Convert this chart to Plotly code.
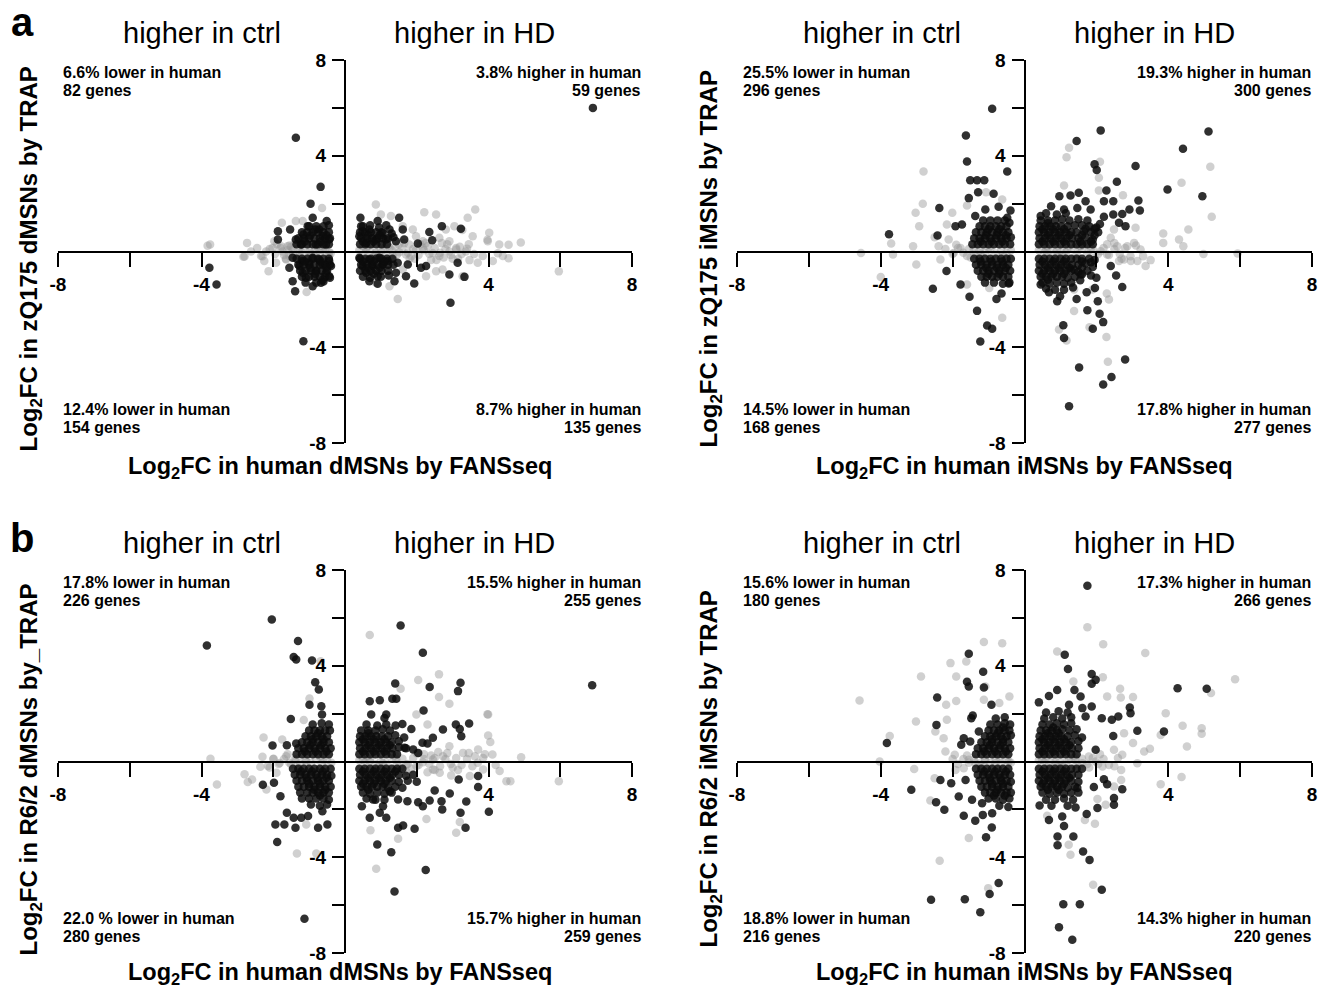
import plotly.graph_objects as go

# ---------------- data ----------------
AL_dark = [(-1.37,4.75),(-0.68,2.70),(-0.96,2.0),(-3.78,-0.68),(-3.58,-1.38),(-1.16,-3.75),(2.94,-2.14),(3.23,0.95),(2.70,1.06),(6.91,6.0),
(-0.90,1.41),(-0.51,1.27),(-1.87,0.85),(-1.53,0.92),(-1.87,0.5),(-1.16,0.71),(-0.72,0.92),(-0.44,0.5),(-1.23,0.29),(-0.81,0.29),(-0.53,0.29),(-1.04,1.06),(-0.62,0.64),(-1.37,0.5),
(-1.46,-0.26),(-1.27,-0.61),(-0.99,-0.47),(-0.72,-0.33),(-0.44,-0.40),(-1.55,-0.68),(-1.18,-0.89),(-0.81,-0.82),(-0.53,-0.89),(-1.46,-1.24),(-1.39,-1.66),(-1.09,-1.10),(-0.90,-1.45),(-0.67,-1.31),(-0.44,-1.03),(-0.62,-0.54),(-0.39,-0.61),(-0.90,-0.26),(-1.18,-0.40),
(0.43,1.41),(0.91,1.27),(1.51,1.41),(0.45,1.06),(0.68,0.92),(1.05,0.78),(1.24,0.92),(1.61,0.92),(0.40,0.64),(0.59,0.36),(0.86,0.5),(1.14,0.5),(1.42,0.43),(1.65,0.5),(2.03,0.33),(2.35,0.81),(2.43,0.47),(0.49,0.85),
(0.40,-0.26),(0.68,-0.33),(0.96,-0.26),(1.19,-0.40),(0.49,-0.61),(0.77,-0.61),(1.05,-0.54),(1.47,-0.47),(1.75,-0.54),(0.59,-0.89),(0.91,-1.03),(1.22,-1.0),(1.42,-0.89),(0.68,-1.24),(0.91,-1.35),(1.38,-1.24),(1.70,-1.03),(1.93,-1.34),(2.12,-0.68),(2.26,-0.61),(2.91,-0.96),(3.14,-0.47),(3.33,-1.06)]
AL_dark_core = [(-1.35,0.3),(-1.2,0.3),(-1.05,0.3),(-0.9,0.3),(-0.75,0.3),(-0.6,0.3),(-0.45,0.3),
(-1.3,0.55),(-1.15,0.55),(-1.0,0.55),(-0.85,0.55),(-0.7,0.55),(-0.55,0.55),(-0.42,0.55),
(-1.2,0.8),(-1.05,0.8),(-0.9,0.8),(-0.75,0.8),(-0.6,0.8),(-0.45,0.8),(-1.0,1.05),(-0.8,1.05),(-0.6,1.05),(-0.45,1.1),
(-1.35,-0.3),(-1.2,-0.3),(-1.05,-0.3),(-0.9,-0.3),(-0.75,-0.3),(-0.6,-0.3),(-0.45,-0.3),
(-1.3,-0.55),(-1.15,-0.55),(-1.0,-0.55),(-0.85,-0.55),(-0.7,-0.55),(-0.55,-0.55),(-0.42,-0.55),
(-1.25,-0.8),(-1.1,-0.8),(-0.95,-0.8),(-0.8,-0.8),(-0.65,-0.8),(-0.5,-0.8),
(-1.2,-1.05),(-1.0,-1.05),(-0.85,-1.05),(-0.7,-1.05),(-0.55,-1.05),(-0.42,-1.1),(-1.1,-1.3),(-0.8,-1.3),(-0.6,-1.25),
(0.42,0.3),(0.57,0.3),(0.72,0.3),(0.87,0.3),(1.02,0.3),(1.17,0.3),
(0.45,0.55),(0.6,0.55),(0.75,0.55),(0.9,0.55),(1.05,0.55),(1.2,0.55),(1.35,0.6),
(0.42,0.8),(0.57,0.8),(0.72,0.8),(0.87,0.8),(1.02,0.8),(1.3,0.75),(0.5,1.05),(0.7,1.1),(0.95,1.0),(1.15,1.1),
(0.42,-0.3),(0.57,-0.3),(0.72,-0.3),(0.87,-0.3),(1.02,-0.3),(1.17,-0.3),(1.32,-0.3),
(0.45,-0.55),(0.6,-0.55),(0.75,-0.55),(0.9,-0.55),(1.05,-0.55),(1.2,-0.55),(1.35,-0.55),
(0.42,-0.8),(0.57,-0.8),(0.72,-0.8),(0.87,-0.8),(1.02,-0.8),(1.2,-0.8),(0.5,-1.05),(0.7,-1.1),(1.0,-1.05),
(-1.12,0.42),(-0.97,0.67),(-0.68,0.42),(-0.52,0.68),(-0.83,0.92),(-1.12,-0.42),(-0.97,-0.68),(-0.68,-0.42),(-0.52,-0.68),(-0.83,-0.93),(-0.62,-1.18),
(0.5,0.42),(0.8,0.42),(0.65,0.68),(0.97,0.68),(0.5,-0.42),(0.8,-0.42),(1.1,-0.42),(0.65,-0.68),(0.97,-0.68),(0.8,-0.93)]
AL_gray = [(-3.76,0.29),(-2.73,0.36),(-2.83,-0.22),(-2.62,0.0),(-2.34,-0.19),(-2.25,-0.40),(-2.13,-0.82),(-1.76,1.20),(-1.97,0.43),(-1.74,0.0),(-1.60,0.22),(-1.55,-0.19),(-1.92,-0.47),(-1.37,1.27),(-1.18,1.27),(-0.64,1.82),(-1.07,-1.69),(-2.02,0.15),(-1.78,0.22),(-1.64,-0.33),(-1.46,0.08),(-1.27,-0.06),(-0.99,0.0),(-0.62,0.05),(-0.44,-0.03),(-0.81,-0.06),(-2.20,0.0),(-3.83,0.24),(-2.80,-0.21),
(0.86,1.96),(1.0,1.55),(1.28,1.48),(2.21,1.64),(2.54,1.55),(3.63,1.75),(3.42,1.41),(3.05,1.06),(3.56,0.64),(4.02,0.78),(3.98,0.43),(4.30,0.29),(4.40,-0.19),(4.12,-0.40),(3.84,-0.19),(3.70,-0.47),(3.47,-0.36),(3.28,-1.03),(1.47,-1.98),(2.54,-0.82),(2.26,-1.03),(2.72,-0.75),(1.89,0.92),(1.98,0.64),(2.17,0.43),(2.63,0.57),(2.91,0.43),(2.81,0.92),(1.61,1.06),(0.59,0.08),(1.05,0.06),(1.51,-0.03),(1.98,0.06),(2.44,-0.06),(2.91,0.0),(3.37,0.0),(1.24,0.15),(1.70,-0.12),(2.17,0.15),(2.63,-0.19),(3.10,0.15),(1.79,0.29),(1.33,-0.19),(0.86,-0.08),(1.61,-0.75),(0.86,-1.31),(1.24,-1.45),
(5.96,-0.83),(4.9,0.38),(4.56,-0.28),(4.56,0.28),(3.27,0.9),(4.26,-0.07),(3.97,0.49)]
AL_gray_band = [(-2.1,0.1),(-1.95,-0.1),(-1.8,0.15),(-1.7,-0.15),(-1.6,0.05),(-1.5,0.2),(-1.45,-0.12),(-1.3,0.08),(-1.2,-0.05),(-1.1,0.12),(-0.95,-0.1),(-0.85,0.05),(-0.7,-0.05),(-0.55,0.1),(-0.4,-0.08),
(0.4,0.05),(0.55,-0.1),(0.7,0.1),(0.85,-0.05),(1.0,0.12),(1.15,-0.1),(1.3,0.05),(1.45,-0.12),(1.6,0.15),(1.75,-0.05),(1.9,0.1),(2.05,-0.15),(2.2,0.05),(2.35,-0.1),(2.5,0.15),(2.65,-0.05),(2.8,0.1),(2.95,-0.15),(3.1,0.08),(3.25,-0.1),(3.4,0.12),(1.5,0.3),(1.8,-0.3),(2.1,0.3),(2.4,-0.35),(2.7,0.35),(3.0,-0.3),(1.2,0.25),(0.9,-0.25),
(-1.9,0.3),(-1.65,-0.3),(-1.4,0.35),(-1.0,-0.2),(-0.6,0.2),(-0.45,-0.2),(0.5,0.22),(0.75,-0.22),(1.05,0.3),(1.35,-0.3),(1.65,0.35),(1.95,-0.3),(2.25,0.35),(2.55,-0.35),(2.85,0.3),(3.15,-0.3),(3.45,0.3),(3.6,-0.1),(0.6,0.18),(0.95,-0.15),(1.4,0.2),(1.85,-0.2),(2.3,0.22),(2.75,-0.25),(3.2,0.2),(-1.55,0.25),(-1.25,-0.25),(-0.75,0.18),(-2.3,-0.2),(-2.45,0.15)]

AR_dark = [(-0.90,5.96),(-1.63,4.85),(-1.60,3.76),(-0.48,3.34),(-1.51,2.98),(-1.32,2.98),(-1.12,2.98),(-1.29,2.48),(-0.86,2.41),(-1.55,2.23),(-2.37,1.82),(-3.77,0.72),(-2.42,0.67),(-2.17,-0.81),(-2.55,-1.56),(-1.78,-1.38),(-1.53,-1.89),(-1.32,-2.48),(-1.04,-3.09),(-0.90,-3.23),(-1.23,-3.76),(-0.78,-1.98),(-0.64,-1.75),(-0.44,-1.34),
(-1.92,1.06),(-1.74,1.13),(-1.37,1.48),(-1.09,1.75),(-0.72,1.87),(-0.39,1.71),(-0.48,1.41),
(2.12,5.06),(1.45,4.62),(5.12,5.01),(4.41,4.29),(1.95,3.64),(2.01,3.40),(3.09,3.57),(2.57,2.91),(3.98,2.59),(4.95,2.31),(2.28,2.55),(3.17,2.13),(3.21,1.71),(2.92,1.75),(2.72,1.57),(2.81,1.06),(2.63,1.20),(1.51,2.45),(1.28,2.34),(0.97,2.31),(1.70,2.10),(1.84,1.75),(2.21,2.10),(2.47,2.10),(2.21,1.45),(2.47,1.55),(0.74,1.89),(0.45,1.48),(1.10,1.75),(1.47,1.82),
(0.45,-1.38),(0.68,-1.70),(0.91,-2.08),(0.99,-1.87),(1.45,-1.98),(1.73,-1.70),(1.96,-1.52),(2.04,-2.08),(1.75,-2.45),(2.09,-2.60),(2.19,-2.95),(1.90,-3.23),(1.08,-3.08),(1.10,-3.61),(2.80,-4.51),(1.52,-4.85),(2.42,-5.24),(2.19,-5.56),(1.24,-6.46),(2.55,-1.0),(2.72,-1.48),(2.40,-0.61),(1.56,-0.96),(1.38,-0.75)]
AR_dark_core = [(-1.45,0.3),(-1.3,0.3),(-1.15,0.3),(-1.0,0.3),(-0.85,0.3),(-0.7,0.3),(-0.55,0.3),(-0.4,0.3),
(-1.4,0.55),(-1.25,0.55),(-1.1,0.55),(-0.95,0.55),(-0.8,0.55),(-0.65,0.55),(-0.5,0.55),(-0.38,0.6),
(-1.35,0.8),(-1.2,0.8),(-1.05,0.8),(-0.9,0.8),(-0.75,0.8),(-0.6,0.8),(-0.45,0.8),
(-1.25,1.05),(-1.1,1.05),(-0.95,1.05),(-0.8,1.05),(-0.65,1.05),(-0.5,1.05),(-1.15,1.3),(-0.95,1.3),(-0.75,1.3),(-0.55,1.3),(-0.42,1.2),
(-1.4,-0.3),(-1.25,-0.3),(-1.1,-0.3),(-0.95,-0.3),(-0.8,-0.3),(-0.65,-0.3),(-0.5,-0.3),(-0.38,-0.3),
(-1.35,-0.55),(-1.2,-0.55),(-1.05,-0.55),(-0.9,-0.55),(-0.75,-0.55),(-0.6,-0.55),(-0.45,-0.55),
(-1.3,-0.8),(-1.15,-0.8),(-1.0,-0.8),(-0.85,-0.8),(-0.7,-0.8),(-0.55,-0.8),(-0.4,-0.8),
(-1.2,-1.05),(-1.05,-1.05),(-0.9,-1.05),(-0.75,-1.05),(-0.6,-1.05),(-0.45,-1.05),(-1.1,-1.3),(-0.85,-1.3),(-0.6,-1.35),(-0.42,-1.3),
(0.4,0.3),(0.55,0.3),(0.7,0.3),(0.85,0.3),(1.0,0.3),(1.15,0.3),(1.3,0.3),(1.45,0.3),
(0.42,0.55),(0.57,0.55),(0.72,0.55),(0.87,0.55),(1.02,0.55),(1.17,0.55),(1.32,0.55),(1.5,0.55),(1.7,0.6),(1.9,0.5),
(0.4,0.8),(0.55,0.8),(0.7,0.8),(0.85,0.8),(1.0,0.8),(1.15,0.8),(1.3,0.8),(1.45,0.8),(1.65,0.85),(1.85,0.8),
(0.42,1.05),(0.57,1.05),(0.72,1.05),(0.87,1.05),(1.02,1.05),(1.2,1.05),(1.4,1.1),(1.6,1.1),(1.8,1.05),(2.0,1.0),
(0.45,1.3),(0.65,1.3),(0.85,1.3),(1.05,1.35),(1.25,1.3),(1.5,1.35),(1.75,1.3),(0.6,1.6),(0.9,1.55),(1.15,1.6),
(0.4,-0.3),(0.55,-0.3),(0.7,-0.3),(0.85,-0.3),(1.0,-0.3),(1.15,-0.3),(1.3,-0.3),(1.45,-0.3),(1.6,-0.3),
(0.42,-0.55),(0.57,-0.55),(0.72,-0.55),(0.87,-0.55),(1.02,-0.55),(1.17,-0.55),(1.32,-0.55),(1.5,-0.55),(1.7,-0.5),
(0.4,-0.8),(0.55,-0.8),(0.7,-0.8),(0.85,-0.8),(1.0,-0.8),(1.15,-0.8),(1.3,-0.8),(1.5,-0.85),(1.75,-0.8),
(0.45,-1.05),(0.6,-1.05),(0.75,-1.05),(0.9,-1.05),(1.05,-1.05),(1.2,-1.1),(1.4,-1.05),
(0.5,-1.3),(0.7,-1.35),(0.9,-1.3),(1.1,-1.35),(1.3,-1.3),(0.6,-1.55),(0.85,-1.6),
(-1.22,0.42),(-0.92,0.42),(-0.62,0.42),(-1.07,0.68),(-0.77,0.68),(-0.52,0.68),(-1.0,0.93),(-0.7,0.93),(-1.22,-0.42),(-0.92,-0.42),(-0.62,-0.42),(-1.07,-0.68),(-0.77,-0.68),(-0.52,-0.68),(-1.0,-0.93),(-0.7,-0.93),
(0.5,0.42),(0.8,0.42),(1.1,0.42),(0.65,0.68),(0.95,0.68),(1.25,0.68),(0.5,0.93),(0.8,0.93),(1.1,0.93),(0.65,1.18),(0.5,-0.42),(0.8,-0.42),(1.1,-0.42),(0.65,-0.68),(0.95,-0.68),(1.25,-0.68),(0.5,-0.93),(0.8,-0.93),(1.1,-0.93),(0.65,-1.18),
(1.6,0.3),(1.75,0.3),(1.9,0.3),(1.55,0.42),(1.85,0.42),(1.6,0.68),(1.95,0.68),(2.05,0.8),(1.7,0.95),(1.95,0.95),(2.1,1.15),(1.8,-0.3),(1.95,-0.35),(1.6,-0.42),(1.85,-0.45),(1.6,-0.68),(1.9,-0.65),(1.6,-0.95),(1.85,-1.0),(1.55,-1.2),(2.0,-1.1),(1.35,-1.5),(1.1,-1.6)]
AR_gray = [(-4.55,-0.06),(-4.0,-1.07),(-3.71,0.33),(-3.66,-0.13),(-3.10,0.22),(-3.01,-0.54),(-2.81,3.34),(-2.83,1.99),(-3.03,1.62),(-2.93,1.06),(-2.50,0.60),(-2.16,1.13),(-2.01,1.62),(-2.39,0.22),(-2.34,-0.33),(-2.11,0.50),(-1.97,-0.06),(-1.60,-1.38),(-0.98,-1.52),(-0.62,-2.77),(-0.62,2.17),(-1.07,2.48),(-1.60,1.92),(-1.78,0.15),(-1.41,0.08),(-1.23,-0.08),(-1.60,-0.19),
(1.24,4.33),(1.17,3.94),(2.10,3.75),(2.07,3.08),(1.10,2.76),(2.07,2.55),(2.74,2.35),(4.37,2.87),(5.17,3.54),(5.21,1.45),(4.56,0.92),(4.30,0.50),(4.42,0.22),(3.86,0.75),(3.86,0.36),(4.98,-0.10),(5.93,-0.08),(3.51,-0.36),(3.37,-0.61),(3.14,-0.40),(2.96,-0.40),(2.77,-0.33),(2.63,-0.40),(2.30,-0.13),(2.40,0.57),(2.49,0.92),(3.09,0.99),(2.86,0.22),(2.58,0.22),(3.23,0.08),(3.05,0.36),(1.38,-2.49),(2.35,-2.0),(2.29,-1.75),(0.96,-3.26),(1.17,-3.72),(1.81,-3.16),(2.28,-3.57),(2.32,-4.61),(1.89,-1.59),(1.38,-1.59),(1.56,0.22),(1.84,0.08),(2.12,0.01),(1.19,0.08),(0.91,0.01),(0.63,-0.03)]
AR_gray_band = [(-2.2,0.1),(-2.0,-0.1),(-1.85,0.15),(-1.7,-0.05),(-1.55,0.1),(-1.4,-0.1),(-1.25,0.05),(-1.1,-0.05),(-0.95,0.08),(-0.8,-0.08),(-0.65,0.05),(-0.5,-0.05),(-0.38,0.05),
(0.4,0.05),(0.55,-0.05),(0.7,0.08),(0.85,-0.08),(1.0,0.05),(1.15,-0.05),(1.3,0.1),(1.45,-0.1),(1.6,0.12),(1.75,-0.08),(1.9,0.1),(2.05,-0.1),(2.2,0.15),(2.35,-0.15),(2.5,0.1),(2.65,-0.1),(2.8,0.15),(2.95,-0.2),
(-1.9,0.28),(-1.5,-0.25),(-1.0,0.15),(-0.6,-0.15),(0.6,0.15),(1.05,-0.15),(1.5,0.2),(1.95,-0.25),(2.3,0.3),(2.7,-0.3),(3.1,0.25),(3.3,-0.2),(1.7,0.3),(2.5,0.35)]

BL_dark = [(-3.85,4.85),(-2.04,5.93),(-1.31,5.03),(-1.43,4.37),(-1.36,4.26),(-0.92,4.22),(-0.83,3.31),(-0.73,3.01),(-0.99,2.37),(-0.66,2.31),(-0.64,1.96),(-1.51,1.78),(-2.02,0.67),(-1.62,0.68),(-1.36,0.75),(-2.29,-0.97),(-1.98,-0.89),(-1.80,-1.45),(-1.94,-2.63),(-1.69,-2.63),(-1.89,-3.36),(-1.38,-2.77),(-1.62,-2.14),(-1.43,-2.35),(-1.22,-2.35),(-1.03,-2.28),(-0.75,-2.77),(-0.49,-2.63),(-0.63,-2.08),(-1.13,-6.57),
(1.55,5.68),(2.17,4.54),(1.40,3.26),(2.36,3.11),(3.22,3.29),(3.15,2.94),(0.69,2.52),(0.97,2.56),(1.32,2.62),(1.43,2.62),(2.19,2.13),(1.15,1.96),(1.10,1.82),(0.73,1.96),(1.60,1.57),(1.41,1.50),(1.85,1.36),(2.73,1.34),(3.09,1.55),(3.46,1.59),(3.20,1.36),(3.24,1.06),(2.45,0.99),(2.16,0.78),(2.30,0.75),(1.66,0.57),(1.90,0.50),(2.04,0.36),(6.89,3.19),
(0.47,-1.87),(0.69,-2.35),(0.97,-2.14),(1.15,-2.35),(1.48,-2.77),(1.62,-2.67),(1.94,-2.81),(1.29,-3.79),(0.90,-3.47),(1.38,-5.43),(2.25,-4.53),(1.74,-1.66),(2.04,-1.70),(2.17,-1.87),(2.36,-1.63),(2.50,-1.21),(2.71,-2.0),(2.69,-1.66),(2.92,-1.34),(3.17,-0.75),(3.38,-1.67),(3.36,-2.77),(3.22,-2.14),(3.71,-1.07),(4.01,-2.10),(3.71,-0.61),(1.25,-1.24),(1.48,-1.59),(1.06,-1.87),(0.78,-1.59)]
BL_dark_core = [(-1.35,0.3),(-1.2,0.3),(-1.05,0.3),(-0.9,0.3),(-0.75,0.3),(-0.6,0.3),(-0.45,0.3),
(-1.3,0.55),(-1.15,0.55),(-1.0,0.55),(-0.85,0.55),(-0.7,0.55),(-0.55,0.55),(-0.4,0.55),
(-1.2,0.8),(-1.05,0.8),(-0.9,0.8),(-0.75,0.8),(-0.6,0.8),(-0.45,0.8),
(-1.1,1.05),(-0.95,1.05),(-0.8,1.05),(-0.65,1.05),(-0.5,1.05),(-1.0,1.3),(-0.85,1.3),(-0.7,1.3),(-0.55,1.3),(-0.42,1.3),(-0.9,1.55),(-0.65,1.6),(-0.45,1.55),
(-1.45,-0.3),(-1.3,-0.3),(-1.15,-0.3),(-1.0,-0.3),(-0.85,-0.3),(-0.7,-0.3),(-0.55,-0.3),(-0.4,-0.3),
(-1.4,-0.55),(-1.25,-0.55),(-1.1,-0.55),(-0.95,-0.55),(-0.8,-0.55),(-0.65,-0.55),(-0.5,-0.55),(-0.38,-0.6),
(-1.35,-0.8),(-1.2,-0.8),(-1.05,-0.8),(-0.9,-0.8),(-0.75,-0.8),(-0.6,-0.8),(-0.45,-0.8),
(-1.3,-1.05),(-1.15,-1.05),(-1.0,-1.05),(-0.85,-1.05),(-0.7,-1.05),(-0.55,-1.05),(-0.4,-1.05),
(-1.25,-1.3),(-1.05,-1.3),(-0.9,-1.3),(-0.75,-1.3),(-0.6,-1.3),(-0.45,-1.3),
(-1.2,-1.55),(-1.0,-1.55),(-0.8,-1.55),(-0.6,-1.55),(-0.45,-1.6),(-0.95,-1.8),(-0.7,-1.85),(-0.5,-1.8),
(0.4,0.3),(0.55,0.3),(0.7,0.3),(0.85,0.3),(1.0,0.3),(1.15,0.3),(1.3,0.3),(1.45,0.3),
(0.42,0.55),(0.57,0.55),(0.72,0.55),(0.87,0.55),(1.02,0.55),(1.17,0.55),(1.32,0.55),(1.5,0.6),(1.7,0.55),
(0.4,0.8),(0.55,0.8),(0.7,0.8),(0.85,0.8),(1.0,0.8),(1.15,0.8),(1.3,0.8),(1.5,0.85),
(0.42,1.05),(0.57,1.05),(0.72,1.05),(0.87,1.05),(1.02,1.05),(1.2,1.05),(1.4,1.1),(1.65,1.0),
(0.45,1.3),(0.65,1.3),(0.85,1.3),(1.05,1.35),(1.25,1.3),(0.6,1.55),(0.9,1.5),(1.15,1.55),
(0.4,-0.3),(0.55,-0.3),(0.7,-0.3),(0.85,-0.3),(1.0,-0.3),(1.15,-0.3),(1.3,-0.3),(1.45,-0.3),(1.6,-0.3),
(0.42,-0.55),(0.57,-0.55),(0.72,-0.55),(0.87,-0.55),(1.02,-0.55),(1.17,-0.55),(1.32,-0.55),(1.5,-0.55),(1.7,-0.6),(1.9,-0.55),
(0.4,-0.8),(0.55,-0.8),(0.7,-0.8),(0.85,-0.8),(1.0,-0.8),(1.15,-0.8),(1.3,-0.8),(1.5,-0.85),(1.75,-0.8),(2.0,-0.85),
(0.45,-1.05),(0.6,-1.05),(0.75,-1.05),(0.9,-1.05),(1.05,-1.05),(1.2,-1.1),(1.4,-1.05),(1.6,-1.1),
(0.5,-1.3),(0.7,-1.35),(0.9,-1.3),(1.1,-1.35),(1.3,-1.3),(0.6,-1.55),(0.85,-1.6),(1.1,-1.6),
(-1.12,0.42),(-0.82,0.42),(-0.52,0.42),(-0.97,0.68),(-0.67,0.68),(-0.9,0.93),(-0.6,0.93),(-0.75,1.18),(-1.22,-0.42),(-0.92,-0.42),(-0.62,-0.42),(-1.07,-0.68),(-0.77,-0.68),(-0.52,-0.68),(-1.0,-0.93),(-0.7,-0.93),(-0.85,-1.18),(-0.55,-1.18),(-0.7,-1.42),
(0.5,0.42),(0.8,0.42),(1.1,0.42),(0.65,0.68),(0.95,0.68),(1.25,0.68),(0.5,0.93),(0.8,0.93),(1.1,0.93),(0.65,1.18),(0.5,-0.42),(0.8,-0.42),(1.1,-0.42),(1.4,-0.42),(0.65,-0.68),(0.95,-0.68),(1.25,-0.68),(0.5,-0.93),(0.8,-0.93),(1.1,-0.93),(0.65,-1.18)]
BL_gray = [(-3.75,0.11),(-3.57,-0.96),(-2.80,-0.53),(-2.71,-0.86),(-2.59,-0.75),(-2.36,-0.22),(-2.27,1.0),(-2.15,-0.19),(-2.19,-1.17),(-1.91,-0.47),(-1.75,0.92),(-1.64,0.22),(-1.50,-0.13),(-1.36,0.08),(-1.15,1.73),(-0.99,2.63),(-0.68,4.19),(-1.34,-3.84),(-0.80,-3.84),(-1.08,-2.63),(-0.61,0.08),(-1.08,0.01),(-1.82,-0.06),(-1.99,0.11),
(0.69,5.28),(1.55,3.04),(2.04,3.40),(2.62,3.64),(2.62,2.69),(2.91,2.41),(1.99,1.96),(2.30,1.55),(3.99,1.96),(3.99,1.09),(4.05,0.81),
(0.71,-2.87),(1.48,-3.23),(0.87,-4.48),(2.27,-2.40),(3.10,-2.98),(3.20,-2.53),(2.96,-0.58),(3.48,-0.61),(3.85,-0.33),(4.31,-0.40),(4.50,-0.82),(3.71,0.50),(3.62,0.22),(3.85,0.15),(4.11,0.29),(3.29,0.36),(2.91,0.64),(2.73,0.22),(2.45,0.08),(2.17,-0.03),(1.99,-0.19),(2.45,-0.33),(2.64,-0.47),(1.71,-0.13),(1.43,0.08),(1.06,-0.06),(0.69,0.01),(0.50,0.08),
(4.91,0.18),(5.96,-0.82),(4.61,-0.82),(3.97,1.97)]
BL_gray_band = [(-2.0,0.1),(-1.85,-0.1),(-1.7,0.1),(-1.55,-0.05),(-1.4,0.08),(-1.25,-0.08),(-1.1,0.05),(-0.95,-0.05),(-0.8,0.08),(-0.65,-0.08),(-0.5,0.05),(-0.38,-0.05),
(0.4,0.05),(0.55,-0.05),(0.7,0.1),(0.85,-0.1),(1.0,0.05),(1.15,-0.08),(1.3,0.1),(1.45,-0.1),(1.6,0.12),(1.75,-0.1),(1.9,0.15),(2.05,-0.15),(2.2,0.1),(2.35,-0.1),(2.5,0.15),(2.65,-0.2),(2.8,0.1),(2.95,-0.1),(3.1,0.15),(3.25,-0.15),(3.4,0.1),(3.55,-0.2),(2.0,0.35),(2.6,0.4),(1.7,-0.4),(2.3,-0.45),
(-2.3,0.2),(-2.1,-0.25),(-1.6,0.3),(-1.3,-0.25),(-0.7,0.2),(0.6,0.2),(0.95,-0.2),(1.4,0.25),(1.85,-0.3),(2.2,0.3),(2.5,-0.35),(2.85,0.35),(3.15,-0.35),(3.45,0.35),(3.7,-0.05),(3.9,0.3),(4.2,-0.15),(1.55,-0.25),(2.4,0.25),(3.0,-0.25)]

BR_dark = [(1.75,7.34),(-1.55,4.50),(-1.15,3.75),(-1.60,3.33),(-1.55,3.13),(-1.13,3.09),(-2.43,2.67),(-0.92,2.37),(-1.44,1.92),(-1.48,1.81),(-2.45,1.53),(-3.83,0.77),(-1.76,0.70),(-1.69,0.97),(-1.51,0.84),(-1.27,1.25),
(-3.15,-1.18),(-2.34,-0.77),(-2.04,-0.91),(-2.46,-1.70),(-2.23,-2.02),(-1.83,-1.46),(-1.64,-0.77),(-1.69,-2.27),(-1.37,-2.47),(-1.16,-2.23),(-0.90,-2.16),(-1.07,-3.16),(-0.91,-2.76),(-0.72,-5.08),(-0.97,-5.54),(-1.66,-5.75),(-2.60,-5.78),(-1.23,-6.30),(-1.46,-1.60),(-1.18,-1.74),
(1.12,4.46),(1.21,3.86),(1.87,3.66),(1.98,3.41),(1.87,3.25),(0.91,2.99),(0.68,2.74),(0.40,2.47),(1.39,2.99),(1.56,2.72),(1.87,2.30),(2.93,2.26),(2.95,2.02),(2.61,1.88),(2.43,1.74),(2.15,1.81),(3.14,1.28),(3.88,1.25),(4.26,3.06),(5.07,3.04),(2.47,1.07),(1.98,0.49),(1.61,2.23),(1.70,1.88),(1.24,2.37),
(2.21,-0.74),(2.30,-0.95),(2.72,-1.16),(2.49,-1.53),(2.49,-1.81),(2.03,-1.94),(1.73,-2.19),(1.42,-1.92),(1.47,-1.11),(1.93,-1.07),(0.68,-2.44),(0.42,-1.84),(1.05,-2.30),(1.10,-2.69),(0.92,-3.13),(0.92,-3.50),(1.36,-3.13),(1.63,-3.76),(1.81,-4.11),(2.15,-5.36),(1.08,-5.96),(1.54,-5.96),(0.96,-6.92),(1.33,-7.45)]
BR_dark_core = [(-1.35,0.3),(-1.2,0.3),(-1.05,0.3),(-0.9,0.3),(-0.75,0.3),(-0.6,0.3),(-0.45,0.3),
(-1.3,0.55),(-1.15,0.55),(-1.0,0.55),(-0.85,0.55),(-0.7,0.55),(-0.55,0.55),(-0.4,0.55),
(-1.2,0.8),(-1.05,0.8),(-0.9,0.8),(-0.75,0.8),(-0.6,0.8),(-0.45,0.8),
(-1.1,1.05),(-0.95,1.05),(-0.8,1.05),(-0.65,1.05),(-0.5,1.05),(-0.38,1.1),
(-1.0,1.3),(-0.85,1.3),(-0.7,1.3),(-0.55,1.3),(-0.42,1.3),(-0.95,1.55),(-0.75,1.55),(-0.55,1.6),(-0.4,1.55),(-0.8,1.8),(-0.55,1.85),
(-1.35,-0.3),(-1.2,-0.3),(-1.05,-0.3),(-0.9,-0.3),(-0.75,-0.3),(-0.6,-0.3),(-0.45,-0.3),
(-1.3,-0.55),(-1.15,-0.55),(-1.0,-0.55),(-0.85,-0.55),(-0.7,-0.55),(-0.55,-0.55),(-0.4,-0.55),
(-1.25,-0.8),(-1.1,-0.8),(-0.95,-0.8),(-0.8,-0.8),(-0.65,-0.8),(-0.5,-0.8),(-0.38,-0.85),
(-1.2,-1.05),(-1.05,-1.05),(-0.9,-1.05),(-0.75,-1.05),(-0.6,-1.05),(-0.45,-1.05),
(-1.1,-1.3),(-0.95,-1.3),(-0.8,-1.3),(-0.65,-1.3),(-0.5,-1.3),(-0.38,-1.3),
(-1.0,-1.55),(-0.8,-1.55),(-0.6,-1.6),(-0.42,-1.55),(-0.7,-1.85),(-0.45,-1.9),
(0.4,0.3),(0.55,0.3),(0.7,0.3),(0.85,0.3),(1.0,0.3),(1.15,0.3),(1.3,0.3),(1.45,0.3),
(0.42,0.55),(0.57,0.55),(0.72,0.55),(0.87,0.55),(1.02,0.55),(1.17,0.55),(1.32,0.55),(1.5,0.55),
(0.4,0.8),(0.55,0.8),(0.7,0.8),(0.85,0.8),(1.0,0.8),(1.15,0.8),(1.3,0.8),(1.5,0.85),
(0.42,1.05),(0.57,1.05),(0.72,1.05),(0.87,1.05),(1.02,1.05),(1.2,1.05),(1.4,1.1),(1.6,1.0),
(0.45,1.3),(0.6,1.3),(0.75,1.3),(0.9,1.3),(1.05,1.35),(1.25,1.3),(1.45,1.35),
(0.5,1.55),(0.7,1.55),(0.9,1.6),(1.1,1.55),(1.3,1.6),(0.55,1.8),(0.8,1.85),(1.05,1.8),(1.3,1.85),(0.6,2.05),(0.95,2.1),(1.2,2.05),
(0.4,-0.3),(0.55,-0.3),(0.7,-0.3),(0.85,-0.3),(1.0,-0.3),(1.15,-0.3),(1.3,-0.3),(1.45,-0.3),(1.6,-0.3),
(0.42,-0.55),(0.57,-0.55),(0.72,-0.55),(0.87,-0.55),(1.02,-0.55),(1.17,-0.55),(1.32,-0.55),(1.5,-0.55),
(0.4,-0.8),(0.55,-0.8),(0.7,-0.8),(0.85,-0.8),(1.0,-0.8),(1.15,-0.8),(1.3,-0.8),(1.5,-0.85),
(0.45,-1.05),(0.6,-1.05),(0.75,-1.05),(0.9,-1.05),(1.05,-1.05),(1.2,-1.1),(1.4,-1.05),
(0.5,-1.3),(0.7,-1.35),(0.9,-1.3),(1.1,-1.35),(1.3,-1.3),(1.5,-1.3),(0.6,-1.6),(0.85,-1.6),(1.1,-1.55),(1.35,-1.6),(0.75,-1.85),(1.2,-1.85),
(-1.12,0.42),(-0.82,0.42),(-0.52,0.42),(-0.97,0.68),(-0.67,0.68),(-0.9,0.93),(-0.6,0.93),(-0.75,1.18),(-0.6,1.42),(-1.12,-0.42),(-0.82,-0.42),(-0.52,-0.42),(-0.97,-0.68),(-0.67,-0.68),(-0.9,-0.93),(-0.6,-0.93),(-0.75,-1.18),(-0.85,-1.42),(-0.55,-1.42),
(0.5,0.42),(0.8,0.42),(1.1,0.42),(0.65,0.68),(0.95,0.68),(1.25,0.68),(0.5,0.93),(0.8,0.93),(1.1,0.93),(0.65,1.18),(0.95,1.18),(0.8,1.42),(0.5,-0.42),(0.8,-0.42),(1.1,-0.42),(0.65,-0.68),(0.95,-0.68),(1.25,-0.68),(0.5,-0.93),(0.8,-0.93),(1.1,-0.93),(0.65,-1.18),(0.95,-1.18)]
BR_gray = [(-4.59,2.55),(-4.03,0.0),(-3.75,1.07),(-3.07,-0.31),(-3.02,1.67),(-2.88,3.55),(-2.62,-1.63),(-2.36,-4.15),(-2.50,-0.70),(-2.48,1.25),(-2.20,0.42),(-2.25,0.97),(-2.16,1.74),(-2.18,2.37),(-2.06,4.11),(-1.90,2.53),(-1.90,3.55),(-1.62,4.18),(-1.13,4.99),(-0.62,4.94),(-0.42,2.72),(-0.70,2.44),(-1.13,2.58),(-1.09,3.13),(-1.55,-3.20),(-1.01,-5.29),(-1.94,0.28),(-1.55,0.07),(-1.69,-0.28),(-1.37,-0.07),(-1.09,0.07),(-0.81,-0.07),(-0.44,0.0),(-1.92,-0.35),
(1.75,5.61),(2.19,4.90),(3.36,4.53),(0.91,4.60),(1.36,3.34),(2.18,3.52),(2.66,3.04),(2.30,2.72),(3.02,2.69),(2.68,2.67),(5.86,3.44),(5.19,2.86),(3.93,2.02),(4.40,1.49),(4.93,1.39),(4.93,1.16),(4.52,0.63),(3.79,1.11),(3.49,0.53),(3.33,0.42),(3.14,-0.07),(3.02,0.77),(2.77,1.18),(2.49,0.49),(2.72,0.28),(2.69,-0.35),(2.69,-0.77),(2.49,-1.04),(2.26,-1.81),(2.03,-1.57),(1.96,-2.60),(1.68,-2.44),(1.28,-3.90),(1.23,-3.48),(1.91,-5.15),(0.63,-2.27),(3.79,-0.95),(4.37,-0.65),(2.17,-0.21),(1.98,0.0),(1.79,0.21),(1.61,-0.07),(1.24,0.07),(0.86,0.0),(0.49,0.07),(0.68,-0.14),(1.05,-0.14),(1.42,0.07)]
BR_gray_band = [(-2.0,0.1),(-1.85,-0.1),(-1.7,0.1),(-1.55,-0.05),(-1.4,0.08),(-1.25,-0.08),(-1.1,0.05),(-0.95,-0.05),(-0.8,0.08),(-0.65,-0.08),(-0.5,0.05),(-0.38,-0.05),
(0.4,0.05),(0.55,-0.05),(0.7,0.1),(0.85,-0.1),(1.0,0.05),(1.15,-0.08),(1.3,0.1),(1.45,-0.1),(1.6,0.12),(1.75,-0.1),(1.9,0.15),(2.05,-0.1),(2.2,0.1),(2.35,-0.15),
(-1.6,0.25),(-1.2,-0.2),(-0.7,0.18),(0.6,0.18),(1.0,-0.2),(1.4,0.22),(1.8,-0.25),(2.1,0.3),(2.5,-0.2),(2.6,0.15)]

# ticks
MAJOR_TICKS = [-8, -4, 4, 8]
MAJOR_TEXT = ["-8", "-4", "4", "8"]
MINOR_TICKS = [-6, -2, 2, 6]

# texts
HALF_TITLES = ["higher in ctrl", "higher in HD"]
AL_corner = [["6.6% lower in human", "82 genes"], ["3.8% higher in human", "59 genes"], ["12.4% lower in human", "154 genes"], ["8.7% higher in human", "135 genes"]]
AR_corner = [["25.5% lower in human", "296 genes"], ["19.3% higher in human", "300 genes"], ["14.5% lower in human", "168 genes"], ["17.8% higher in human", "277 genes"]]
BL_corner = [["17.8% lower in human", "226 genes"], ["15.5% higher in human", "255 genes"], ["22.0 % lower in human", "280 genes"], ["15.7% higher in human", "259 genes"]]
BR_corner = [["15.6% lower in human", "180 genes"], ["17.3% higher in human", "266 genes"], ["18.8% lower in human", "216 genes"], ["14.3% higher in human", "220 genes"]]
Y_TITLES = ["Log<sub>2</sub>FC in zQ175 dMSNs by TRAP", "Log<sub>2</sub>FC in zQ175 iMSNs by TRAP",
            "Log<sub>2</sub>FC in R6/2 dMSNs by_TRAP", "Log<sub>2</sub>FC in R6/2 iMSNs by TRAP"]
X_TITLES = ["Log<sub>2</sub>FC in human dMSNs by FANSseq", "Log<sub>2</sub>FC in human iMSNs by FANSseq",
            "Log<sub>2</sub>FC in human dMSNs by FANSseq", "Log<sub>2</sub>FC in human iMSNs by FANSseq"]
PANEL_LETTERS = ["a", "b"]

# ---------------- layout helpers ----------------
W, H = 1321, 989
FONT = "Liberation Sans, Arial, Helvetica, sans-serif"
def xp(px): return px / W
def yp(py): return 1 - py / H

panels = [
    dict(dark=AL_dark + AL_dark_core, gray=AL_gray + AL_gray_band, corner=AL_corner,
         xs=(58, 632), ys=(60, 443), ty=33, rows=(72, 90, 409, 427), cx=(61, 643), ytx=30, xty=467),
    dict(dark=AR_dark + AR_dark_core, gray=AR_gray + AR_gray_band, corner=AR_corner,
         xs=(737, 1312), ys=(60, 443), ty=33, rows=(72, 90, 409, 427), cx=(741, 1313), ytx=710, xty=467),
    dict(dark=BL_dark + BL_dark_core, gray=BL_gray + BL_gray_band, corner=BL_corner,
         xs=(58, 632), ys=(570, 953), ty=543, rows=(582, 600, 918, 936), cx=(61, 643), ytx=30, xty=973),
    dict(dark=BR_dark + BR_dark_core, gray=BR_gray + BR_gray_band, corner=BR_corner,
         xs=(737, 1312), ys=(570, 953), ty=543, rows=(582, 600, 918, 936), cx=(741, 1313), ytx=710, xty=973),
]

fig = go.Figure()
annotations = []
layout_axes = {}

for i, p in enumerate(panels):
    n = "" if i == 0 else str(i + 1)
    xa, ya = "x" + n, "y" + n
    gx, gy = zip(*p["gray"])
    dx, dy = zip(*p["dark"])
    fig.add_trace(go.Scatter(x=gx, y=gy, mode="markers", xaxis=xa, yaxis=ya, showlegend=False, hoverinfo="skip",
                             marker=dict(size=8.5, color="rgba(150,150,150,0.45)", line=dict(width=0))))
    fig.add_trace(go.Scatter(x=dx, y=dy, mode="markers", xaxis=xa, yaxis=ya, showlegend=False, hoverinfo="skip",
                             marker=dict(size=8.5, color="rgba(12,12,12,0.85)", line=dict(width=0))))
    x0, x1 = p["xs"]; y0, y1 = p["ys"]
    xmid_px = (x0 + x1) / 2; ymid_px = (y0 + y1) / 2
    tickfont = dict(family=FONT, size=19, color="black", weight="bold")
    common = dict(range=[-8, 8], anchor="free", showline=True, linewidth=2, linecolor="black", ticks="outside",
                  tickwidth=2, tickcolor="black", tickvals=MAJOR_TICKS, ticktext=MAJOR_TEXT,
                  showgrid=False, zeroline=False, tickfont=tickfont, ticklabelstandoff=2, automargin=False)
    layout_axes["xaxis" + n] = dict(domain=[xp(x0), xp(x1)], position=yp(ymid_px), ticklen=14,
                                    minor=dict(tickvals=MINOR_TICKS, ticks="outside", ticklen=14, tickwidth=2,
                                               tickcolor="black", showgrid=False), **common)
    layout_axes["yaxis" + n] = dict(domain=[yp(y1), yp(y0)], position=xp(xmid_px), ticklen=12,
                                    minor=dict(tickvals=MINOR_TICKS, ticks="outside", ticklen=12, tickwidth=2,
                                               tickcolor="black", showgrid=False), **common)
    for txt, off in zip(HALF_TITLES, (-143, 130)):
        annotations.append(dict(text=txt, x=xp(xmid_px + off), y=yp(p["ty"]), xref="paper", yref="paper",
                                xanchor="center", yanchor="middle", showarrow=False,
                                font=dict(family=FONT, size=29, color="black")))
    r = p["rows"]; cl, cr = p["cx"]
    spots = [(cl, "left", r[0], r[1]), (cr, "right", r[0], r[1]), (cl, "left", r[2], r[3]), (cr, "right", r[2], r[3])]
    for (cxp, anc, ra, rb), lines in zip(spots, p["corner"]):
        for line, ry in zip(lines, (ra, rb)):
            annotations.append(dict(text=line, x=xp(cxp), y=yp(ry), xref="paper", yref="paper",
                                    xanchor=anc, yanchor="middle", showarrow=False,
                                    font=dict(family=FONT, size=16, color="black", weight="bold")))
    annotations.append(dict(text=Y_TITLES[i], x=xp(p["ytx"]), y=yp(ymid_px + 8), xref="paper", yref="paper",
                            xanchor="center", yanchor="middle", textangle=-90, showarrow=False,
                            font=dict(family=FONT, size=24, color="black", weight="bold")))
    annotations.append(dict(text=X_TITLES[i], x=xp(xmid_px - 5 if i % 2 == 0 else xmid_px), y=yp(p["xty"]),
                            xref="paper", yref="paper", xanchor="center", yanchor="middle", showarrow=False,
                            font=dict(family=FONT, size=23.5, color="black", weight="bold")))

for letter, ly in zip(PANEL_LETTERS, (22, 538)):
    annotations.append(dict(text=letter, x=xp(22), y=yp(ly), xref="paper", yref="paper", xanchor="center",
                            yanchor="middle", showarrow=False,
                            font=dict(family=FONT, size=40, color="black", weight="bold")))

fig.update_layout(width=W, height=H, margin=dict(l=0, r=0, t=0, b=0, autoexpand=False), paper_bgcolor="white",
                  plot_bgcolor="white", annotations=annotations, **layout_axes)
fig.write_html("out.html")
